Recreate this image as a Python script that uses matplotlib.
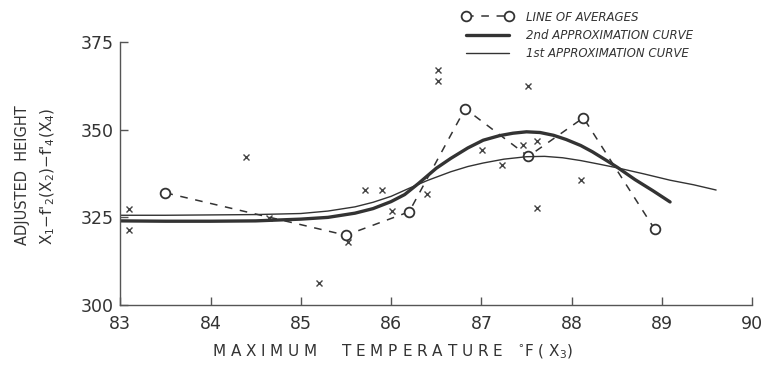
import numpy as np
import matplotlib
matplotlib.use("Agg")
import matplotlib.pyplot as plt

# line of averages (circles joined by dashes)
avg_x = [83.5, 85.5, 86.2, 86.82, 87.52, 88.13, 88.92]
avg_y = [332.0, 319.9, 326.6, 356.0, 342.4, 353.4, 321.6]

# individual observations (crosses)
obs_x = [83.1, 83.1, 84.39, 84.65, 85.2, 85.52, 85.71, 85.9, 86.01, 86.4,
         86.52, 86.52, 87.01, 87.23, 87.46, 87.52, 87.62, 87.62, 88.1]
obs_y = [327.3, 321.4, 342.3, 324.8, 306.4, 318.0, 332.8, 332.8, 326.9, 331.6,
         366.9, 363.9, 344.2, 339.9, 345.6, 362.5, 346.7, 327.7, 335.6]

# 2nd approximation curve
c2_x = [83.0, 83.5, 84.0, 84.5, 85.0, 85.3, 85.6, 85.8, 86.0, 86.15, 86.3,
        86.5, 86.66, 86.85, 87.02, 87.2, 87.35, 87.5, 87.65, 87.8, 87.94,
        88.1, 88.23, 88.4, 88.51, 88.7, 88.9, 89.09]
c2_y = [324.0, 323.9, 323.9, 324.0, 324.5, 325.0, 326.2, 327.5, 329.5, 331.5, 334.6,
        339.0, 341.8, 344.8, 347.0, 348.3, 349.0, 349.4, 349.2, 348.4, 347.2,
        345.5, 343.7, 341.0, 339.2, 335.8, 332.6, 329.4]

# 1st approximation curve
c1_x = [83.0, 83.5, 84.0, 84.5, 85.0, 85.3, 85.6, 85.8, 86.0, 86.2, 86.4,
        86.66, 86.85, 87.02, 87.25, 87.5, 87.7, 87.9, 88.1, 88.3, 88.51,
        88.8, 89.09, 89.35, 89.6]
c1_y = [325.6, 325.6, 325.7, 325.8, 326.1, 326.8, 328.0, 329.3, 331.0, 333.3, 335.5,
        338.0, 339.5, 340.5, 341.6, 342.3, 342.4, 342.0, 341.2, 340.2, 339.1,
        337.4, 335.6, 334.3, 332.8]

x_ticks = [83, 84, 85, 86, 87, 88, 89, 90]
y_ticks = [300, 325, 350, 375]

ink = "#333333"

fig = plt.figure(figsize=(7.66, 3.72), dpi=100)
ax = fig.add_axes([0.157, 0.18, 0.825, 0.707])

ax.plot(obs_x, obs_y, linestyle="none", marker="x", color="#444444",
        markersize=5, markeredgewidth=1.0)
l_avg, = ax.plot(avg_x, avg_y, linestyle=(0, (5, 5)), color=ink, linewidth=1.1,
                 marker="o", markersize=7, markerfacecolor="white",
                 markeredgecolor=ink, markeredgewidth=1.3)
l_c2, = ax.plot(c2_x, c2_y, color=ink, linewidth=2.4, solid_capstyle="round")
l_c1, = ax.plot(c1_x, c1_y, color=ink, linewidth=1.0, solid_capstyle="round")

ax.set_xlim(83, 90)
ax.set_ylim(300, 375)
ax.set_xticks(x_ticks)
ax.set_yticks(y_ticks)
ax.spines["top"].set_visible(False)
ax.spines["right"].set_visible(False)
for s in ["left", "bottom"]:
    ax.spines[s].set_color("#555555")
    ax.spines[s].set_linewidth(1.0)
ax.tick_params(direction="in", length=6, width=1.0, colors="#555555",
               labelcolor=ink, labelsize=12.5)
ax.tick_params(axis="x", pad=7)
ax.tick_params(axis="y", pad=5)

fig.text(0.513, 0.055, "M A X I M U M     T E M P E R A T U R E   $^{\\circ}$F ( X$_3$)",
         ha="center", va="center", fontsize=11, color=ink)
fig.text(0.03, 0.53, "ADJUSTED  HEIGHT", rotation=90,
         ha="center", va="center", fontsize=10.5, color=ink)
fig.text(0.062, 0.525, "X$_1$$-$f$'_2$(X$_2$)$-$f$'_4$(X$_4$)", rotation=90,
         ha="center", va="center", fontsize=11, color=ink)

leg = fig.legend([l_avg, l_c2, l_c1],
                 ["LINE OF AVERAGES", "2nd APPROXIMATION CURVE", "1st APPROXIMATION CURVE"],
                 loc="upper left", bbox_to_anchor=(0.59, 1.0), frameon=False,
                 handlelength=4.2, handletextpad=1.2, labelspacing=0.45,
                 numpoints=2, prop={"size": 8.5, "style": "italic"})
for t in leg.get_texts():
    t.set_color(ink)

fig.savefig("out.png", dpi=100)
